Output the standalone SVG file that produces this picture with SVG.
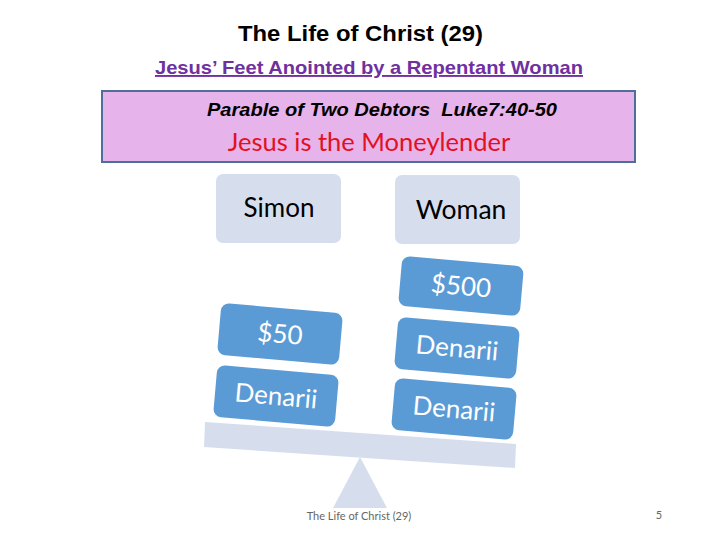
<svg xmlns="http://www.w3.org/2000/svg" width="720" height="540" viewBox="0 0 720 540">
<style>
.ar{font-family:"Liberation Sans",Arial,sans-serif}
.cal{font-family:Lato,"Open Sans",sans-serif}
.light{fill:#D6DEEE}
.blue rect{fill:#5B9BD5}
.blue text{fill:#FFFFFF;font-family:Lato,"Open Sans",sans-serif;font-size:26px;text-anchor:middle}
</style>
<rect width="720" height="540" fill="#FFFFFF"/>
<g id="title">
<text class="ar" x="238" y="41" font-size="22" font-weight="bold" fill="#000" textLength="245" lengthAdjust="spacingAndGlyphs">The Life of Christ (29)</text>
<text class="ar" x="155" y="74" font-size="19" font-weight="bold" fill="#7030A0" text-decoration="underline" textLength="428" lengthAdjust="spacingAndGlyphs">Jesus’ Feet Anointed by a Repentant Woman</text>
</g>
<g id="banner">
<rect x="102" y="91" width="533" height="71" fill="#E6B3EA" stroke="#4F6E9A" stroke-width="2"/>
<text class="ar" x="207" y="116" font-size="18.5" font-weight="bold" font-style="italic" fill="#000" xml:space="preserve" textLength="350" lengthAdjust="spacingAndGlyphs">Parable of Two Debtors  Luke7:40-50</text>
<text class="cal" x="369" y="151" font-size="25.5" text-anchor="middle" fill="#E3101E">Jesus is the Moneylender</text>
</g>
<g id="simon">
<rect class="light" x="216" y="174" width="125" height="69" rx="7"/>
<text class="cal" x="279" y="217" font-size="26" text-anchor="middle" fill="#000">Simon</text>
</g>
<g id="woman">
<rect class="light" x="395" y="175" width="125" height="69" rx="7"/>
<text class="cal" x="461" y="219" font-size="26.5" text-anchor="middle" fill="#000">Woman</text>
</g>
<g id="scale">
<polygon class="light" points="333,508 360,457 387,508"/>
<polygon class="light" points="205,422 516,444 515,468 204,447"/>
</g>
<g id="b50" class="blue" transform="translate(280,334) rotate(5)">
<rect x="-61" y="-26" width="122" height="52" rx="8"/>
<text x="0" y="9">$50</text>
</g>
<g id="bden1" class="blue" transform="translate(276,396) rotate(5)">
<rect x="-61" y="-26" width="122" height="52" rx="8"/>
<text x="0" y="9">Denarii</text>
</g>
<g id="b500" class="blue" transform="translate(461,286) rotate(5)">
<rect x="-61" y="-25" width="122" height="50" rx="8"/>
<text x="0" y="9">$500</text>
</g>
<g id="bden2" class="blue" transform="translate(457,348) rotate(5)">
<rect x="-61" y="-26" width="122" height="52" rx="8"/>
<text x="0" y="9">Denarii</text>
</g>
<g id="bden3" class="blue" transform="translate(454,409) rotate(5)">
<rect x="-61" y="-26" width="122" height="52" rx="8"/>
<text x="0" y="9">Denarii</text>
</g>
<g id="footer">
<text class="cal" x="359" y="520" font-size="11" text-anchor="middle" fill="#666">The Life of Christ (29)</text>
<text class="cal" x="659" y="519" font-size="11" text-anchor="middle" fill="#666">5</text>
</g>
</svg>
